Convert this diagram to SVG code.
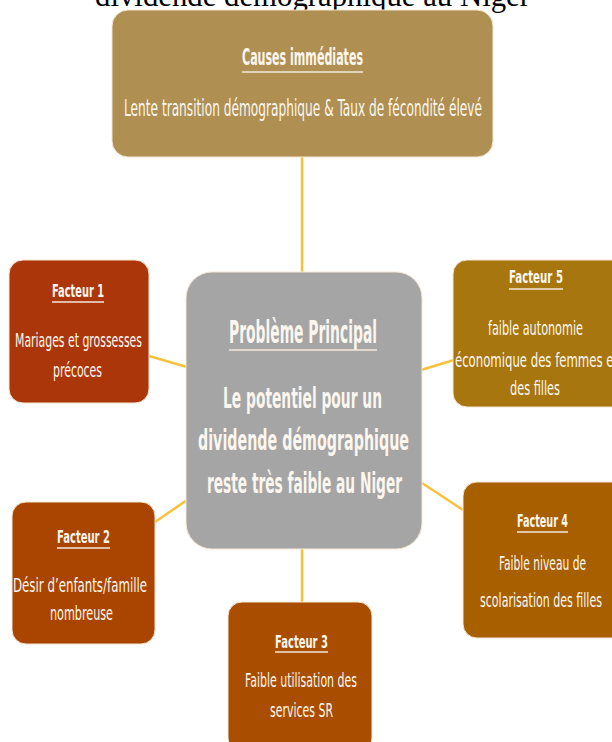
<svg xmlns="http://www.w3.org/2000/svg" width="612" height="742" viewBox="0 0 612 742">
<style>
.t{font-family:"Liberation Sans Narrow","DejaVu Sans Condensed","Liberation Sans",sans-serif;fill:#FBF6EE}
.h{font-weight:bold}
.ft{font-weight:bold;font-size:14.3px}
.fb{font-size:15.5px}
.cb{font-weight:bold;font-size:20.4px}
.ul{stroke:#F3E9DA;stroke-width:1.6}
.c{stroke:#F7C23A;stroke-width:2.5;fill:none}
.box{stroke:#F4E6D2;stroke-width:1}
</style>
<rect width="612" height="742" fill="#FFFFFF"/>
<text x="95" y="6" font-family="Liberation Serif, serif" font-size="30.8" fill="#000" textLength="435" lengthAdjust="spacingAndGlyphs">dividende démographique au Niger</text>
<g id="connectors">
<line class="c" x1="302" y1="157" x2="302" y2="273"/>
<line class="c" x1="149" y1="356" x2="187" y2="367"/>
<line class="c" x1="155" y1="522" x2="187" y2="500"/>
<line class="c" x1="302" y1="548" x2="302" y2="602"/>
<line class="c" x1="422" y1="483" x2="463" y2="510"/>
<line class="c" x1="421" y1="370" x2="454" y2="360"/>
</g>
<g id="causes">
<rect class="box" x="112" y="10" width="381" height="147" rx="16" fill="#AF8F52"/>
<text class="t h" transform="translate(242,65) scale(1,1.45)" font-size="16" textLength="121" lengthAdjust="spacingAndGlyphs">Causes immédiates</text>
<line class="ul" x1="242" y1="72" x2="363" y2="72"/>
<text class="t" transform="translate(124,116) scale(1,1.35)" font-size="17" textLength="358" lengthAdjust="spacingAndGlyphs">Lente transition démographique &amp; Taux de fécondité élevé</text>
</g>
<g id="probleme">
<rect class="box" x="186" y="272" width="236" height="277" rx="26" fill="#A5A5A5"/>
<text class="t h" transform="translate(229,343) scale(1,1.6)" font-size="20" textLength="148" lengthAdjust="spacingAndGlyphs">Problème Principal</text>
<line class="ul" x1="229" y1="350" x2="377" y2="350"/>
<text class="t cb" transform="translate(223,408) scale(1,1.37)" textLength="159" lengthAdjust="spacingAndGlyphs">Le potentiel pour un</text>
<text class="t cb" transform="translate(198,450) scale(1,1.37)" textLength="211" lengthAdjust="spacingAndGlyphs">dividende démographique</text>
<text class="t cb" transform="translate(207,493) scale(1,1.37)" textLength="195" lengthAdjust="spacingAndGlyphs">reste très faible au Niger</text>
</g>
<g id="facteur1">
<rect class="box" x="9" y="260" width="140" height="143" rx="14" fill="#AB360A"/>
<text class="t ft" transform="translate(52,297) scale(1,1.27)" textLength="52" lengthAdjust="spacingAndGlyphs">Facteur 1</text>
<line class="ul" x1="52" y1="302" x2="104" y2="302"/>
<text class="t fb" transform="translate(15,347) scale(1,1.3)" textLength="127" lengthAdjust="spacingAndGlyphs">Mariages et grossesses</text>
<text class="t fb" transform="translate(53,377) scale(1,1.3)" textLength="49" lengthAdjust="spacingAndGlyphs">précoces</text>
</g>
<g id="facteur2">
<rect class="box" x="12" y="502" width="143" height="142" rx="14" fill="#A94500"/>
<text class="t ft" transform="translate(57,543) scale(1,1.27)" textLength="53" lengthAdjust="spacingAndGlyphs">Facteur 2</text>
<line class="ul" x1="57" y1="548" x2="110" y2="548"/>
<text class="t fb" transform="translate(13,592) scale(1,1.3)" textLength="134" lengthAdjust="spacingAndGlyphs">Désir d’enfants/famille</text>
<text class="t fb" transform="translate(50,620) scale(1,1.3)" textLength="63" lengthAdjust="spacingAndGlyphs">nombreuse</text>
</g>
<g id="facteur3">
<rect class="box" x="228" y="602" width="144" height="150" rx="14" fill="#A94E00"/>
<text class="t ft" transform="translate(275,648) scale(1,1.27)" textLength="53" lengthAdjust="spacingAndGlyphs">Facteur 3</text>
<line class="ul" x1="275" y1="652" x2="328" y2="652"/>
<text class="t fb" transform="translate(245,687) scale(1,1.3)" textLength="112" lengthAdjust="spacingAndGlyphs">Faible utilisation des</text>
<text class="t fb" transform="translate(270,717) scale(1,1.3)" textLength="63" lengthAdjust="spacingAndGlyphs">services SR</text>
</g>
<g id="facteur4">
<rect class="box" x="463" y="482" width="165" height="156" rx="14" fill="#A75F00"/>
<text class="t ft" transform="translate(517,527) scale(1,1.27)" textLength="51" lengthAdjust="spacingAndGlyphs">Facteur 4</text>
<line class="ul" x1="517" y1="532" x2="568" y2="532"/>
<text class="t fb" transform="translate(499,570) scale(1,1.3)" textLength="87" lengthAdjust="spacingAndGlyphs">Faible niveau de</text>
<text class="t fb" transform="translate(480,607) scale(1,1.3)" textLength="122" lengthAdjust="spacingAndGlyphs">scolarisation des filles</text>
</g>
<g id="facteur5">
<rect class="box" x="453" y="260" width="175" height="147" rx="14" fill="#A7760F"/>
<text class="t ft" transform="translate(509,283) scale(1,1.27)" textLength="54" lengthAdjust="spacingAndGlyphs">Facteur 5</text>
<line class="ul" x1="509" y1="289" x2="563" y2="289"/>
<text class="t fb" transform="translate(488,335) scale(1,1.3)" textLength="95" lengthAdjust="spacingAndGlyphs">faible autonomie</text>
<text class="t fb" transform="translate(455,367) scale(1,1.3)" textLength="163" lengthAdjust="spacingAndGlyphs">économique des femmes et</text>
<text class="t fb" transform="translate(510,395) scale(1,1.3)" textLength="50" lengthAdjust="spacingAndGlyphs">des filles</text>
</g>
</svg>
